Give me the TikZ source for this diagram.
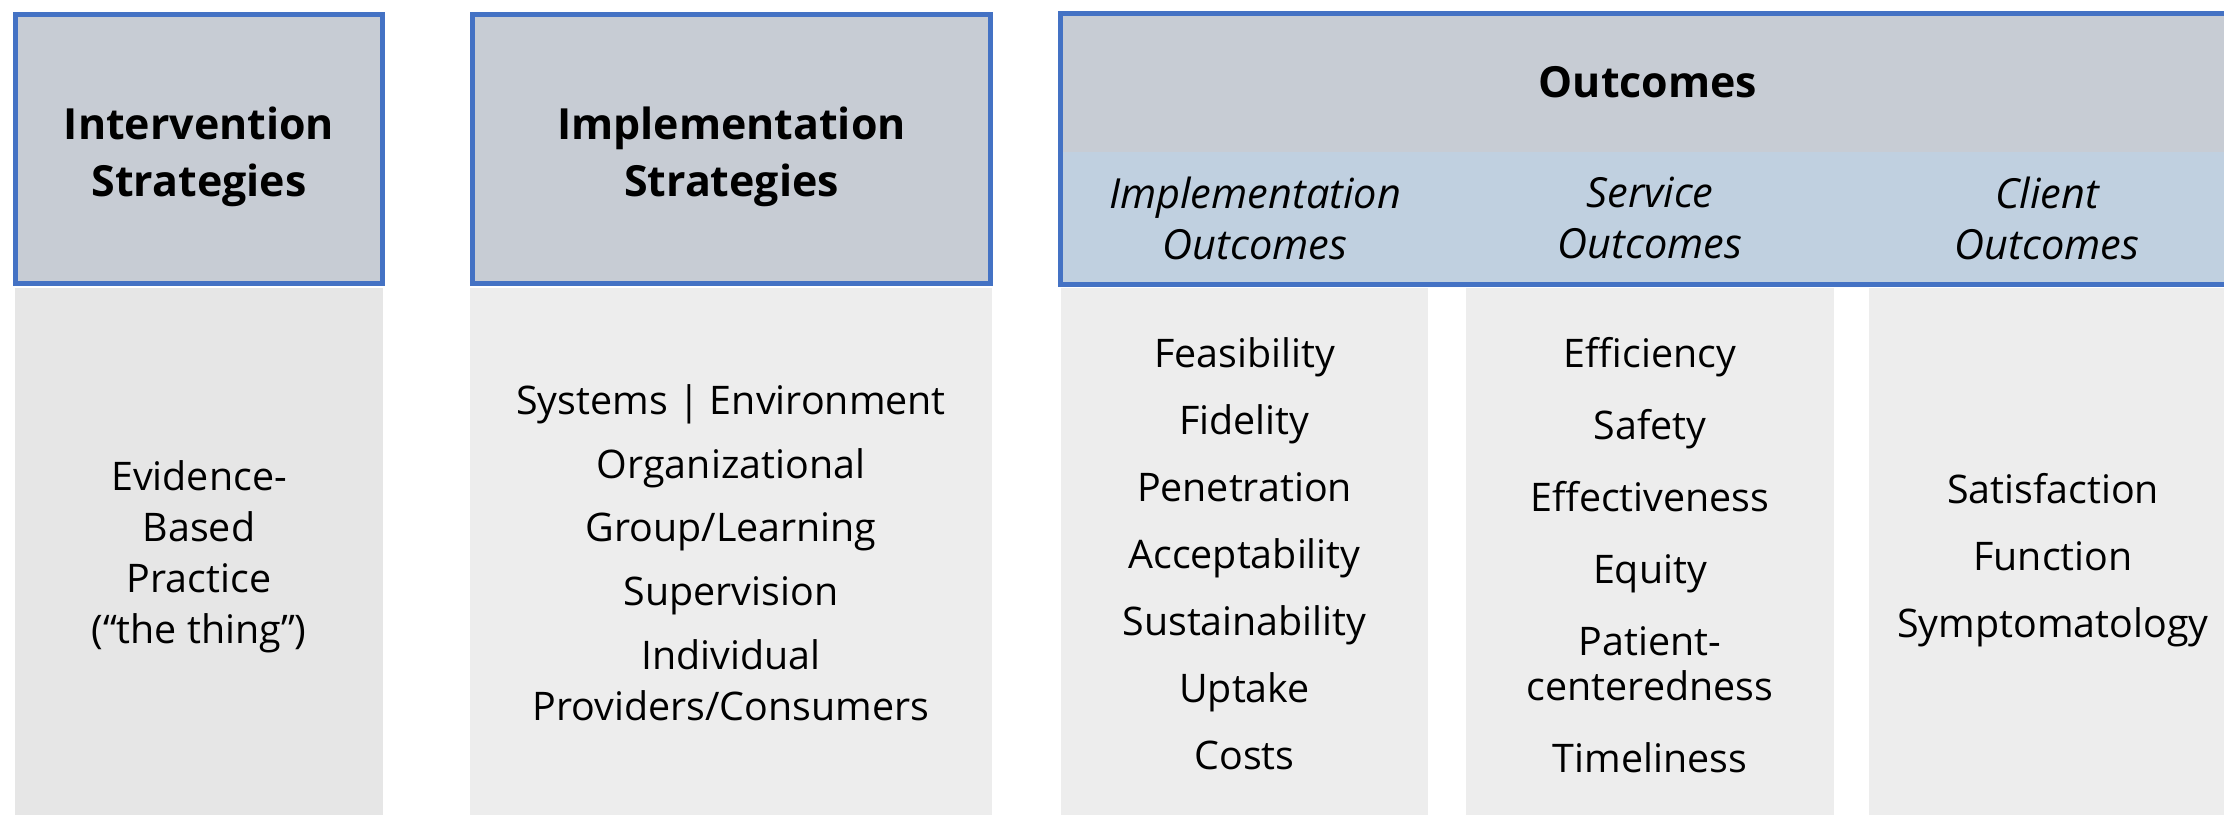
\documentclass[tikz,border=0pt]{standalone}
\usepackage{fontspec}
\setmainfont{Open Sans}
\definecolor{frameblue}{RGB}{68,114,196}
\definecolor{headgray}{RGB}{199,204,212}
\definecolor{subblue}{RGB}{192,208,224}
\definecolor{bodydark}{RGB}{230,230,230}
\definecolor{bodylight}{RGB}{237,237,237}
\begin{document}
\begin{tikzpicture}[x=0.01cm, y=-0.01cm,
	headbox/.style={draw=frameblue, line width=1.45pt, fill=headgray, minimum height=2.69cm},
	headtext/.style={align=center, font=\bfseries\fontsize{12.2pt}{16.2pt}\selectfont},
	bodybox/.style={fill=#1, anchor=north, minimum height=5.3cm, inner sep=0pt},
	listtext/.style={align=center, font=\fontsize{11.2pt}{#1}\selectfont},
	subhead/.style={align=center, font=\itshape\fontsize{11.8pt}{14.5pt}\selectfont}]
		\useasboundingbox (0,0) rectangle (2224,814);
		\clip (0,0) rectangle (2224,814);
		
		% Grey column bodies
		\node[bodybox=bodydark, minimum width=3.68cm] (ebp) at (199,287) {};
		\node[bodybox=bodylight, minimum width=5.22cm] (levels) at (731,287) {};
		\node[bodybox=bodylight, minimum width=3.67cm] (impllist) at (1244.5,287) {};
		\node[bodybox=bodylight, minimum width=3.68cm] (servlist) at (1650,287) {};
		\node[bodybox=bodylight, minimum width=3.68cm] (clientlist) at (2053,287) {};
		
		% Header boxes of the first two columns
		\node[headbox, minimum width=3.67cm] (interv) at (199,149) {};
		\node[headbox, minimum width=5.18cm] (implstrat) at (731.5,149) {};
		\node[headtext] (intervtxt) at (199,157) {Intervention\\Strategies};
		\node[headtext] (implstrattxt) at (731.5,157) {Implementation\\Strategies};
		
		% Outcomes header with its blue strip
		\node[fill=headgray, minimum width=11.85cm, minimum height=2.69cm, anchor=north west]
		(outbox) at (1060.5,13.5) {}; \node[fill=subblue, minimum width=11.85cm,
		minimum height=1.315cm, anchor=south west] (outstrip) at (outbox.south west) {};
		\draw[frameblue, line width=1.45pt] (outbox.north west) rectangle (outbox.south east);
		\node[headtext] (outtxt) at (1648,82.5) {Outcomes};
		
		% Sub headers
		\node[subhead] (implout) at (1255,218) {Implementation\\Outcomes}; \node[subhead]
		(servout) at (1650,218) {Service\\Outcomes}; \node[subhead] (clientout) at (2047,218)
		{Client\\Outcomes};
		
		% Lists in the column bodies
		\node[listtext=14.5pt] (ebptxt) at (199,557) {Evidence-\\Based\\Practice\\(“the thing”)};
		\node[listtext=18.1pt] (levelstxt) at (731,553) {Systems | Environment\\Organizational\\
		Group/Learning\\Supervision\\Individual\\[-3.4pt]Providers/Consumers};
		\node[listtext=19.06pt] (impltxt) at (1244.5,553.5) {Feasibility\\Fidelity\\Penetration\\
		Acceptability\\Sustainability\\Uptake\\Costs};
		\node[listtext=20.5pt] (servtxt) at (1650,555) {Efficiency\\Safety\\Effectiveness\\Equity\\
		Patient-\\[-7.7pt]centeredness\\Timeliness};
		\node[listtext=19.06pt] (clienttxt) at (2053,560) {Satisfaction\\Function\\Symptomatology};
	\end{tikzpicture}
\end{document}
